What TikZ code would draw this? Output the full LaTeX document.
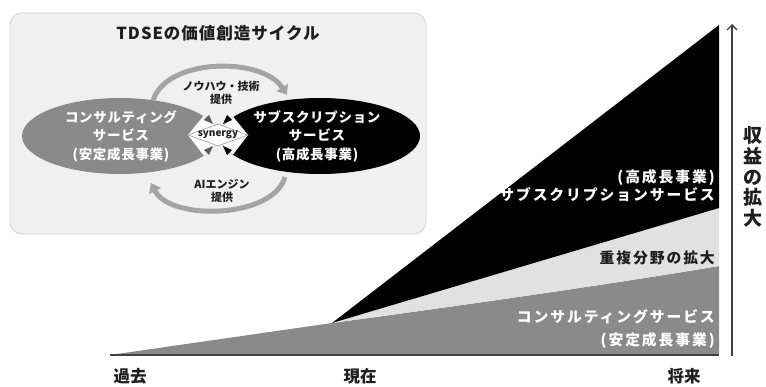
\documentclass[tikz,border=0pt]{standalone}
\usepackage{fontspec}
\newfontfamily\jp{Noto Sans CJK JP}
\usetikzlibrary{arrows.meta,shapes.geometric}
\definecolor{cgray}{HTML}{8A8A8A}
\definecolor{clight}{HTML}{E1E1E1}
\definecolor{insetbg}{HTML}{F0F0F0}
\definecolor{insetline}{HTML}{D4D4D4}
\definecolor{arcgray}{HTML}{A4A4A4}
\definecolor{ink}{HTML}{1E1E1E}
\begin{document}
\begin{tikzpicture}[x=1pt,y=-1pt,
  chartlbl/.style={font=\jp\bfseries\fontsize{14.8}{16}\selectfont\addfontfeature{LetterSpace=13}, inner sep=0pt, anchor=east},
  ellbl/.style={font=\jp\bfseries\fontsize{13.5}{18.5}\selectfont\addfontfeature{LetterSpace=5}, text=white, align=center, inner sep=0pt},
  arclbl/.style={font=\jp\bfseries\fontsize{11}{13.5}\selectfont, text=ink, align=center, inner sep=0pt},
  timelbl/.style={font=\jp\bfseries\fontsize{16.5}{18}\selectfont, text=ink, inner sep=0pt},
  arcline/.style={draw=arcgray, line width=5pt, -{Triangle[width=13pt,length=9pt]}},
]
\useasboundingbox (0,0) rectangle (766,387);
\fill[white] (0,0) rectangle (766,387);

% ---------------- chart ----------------
\coordinate (p0) at (110,355);
\coordinate (p1) at (332,323);
\coordinate (r0) at (719,355);
\coordinate (r1) at (719,266);
\coordinate (r2) at (719,208);
\coordinate (r3) at (719,25);
\fill[cgray] (p0) -- (p1) .. controls (450,307) and (600,286) .. (r1) -- (r0) -- cycle;
\fill[clight] (p1) -- (r2) -- (r1) .. controls (600,286) and (450,307) .. (p1);
\fill[black] (p1) -- (r3) -- (r2) -- cycle;
\draw[draw=black!75, line width=1.5pt] (p0) -- (r0);

% axis
\coordinate (a0) at (732,356);
\coordinate (a1) at (732,24);
\draw[draw=black!75, line width=1.3pt, -{Straight Barb[length=5pt,width=10pt]}] (a0) -- (a1);
\node[font=\jp\bfseries\fontsize{19}{20.8}\selectfont, text=ink, align=center, inner sep=0pt] (axislbl) at (753,177) {収\\益\\の\\拡\\大};

% time labels
\node[timelbl] (past) at (130,376.5) {過去};
\node[timelbl] (now) at (360,376.5) {現在};
\node[timelbl] (future) at (684,376.5) {将来};

% chart labels
\node[chartlbl, text=white] (subs1) at (715,178) {(高成長事業)};
\node[chartlbl, text=white] (subs2) at (715,195) {サブスクリプションサービス};
\node[chartlbl, text=ink] (overlap) at (715,258) {重複分野の拡大};
\node[chartlbl, text=white] (cons1) at (715,317) {コンサルティングサービス};
\node[chartlbl, text=white] (cons2) at (715,341) {(安定成長事業)};

% ---------------- inset ----------------
\draw[fill=insetbg, draw=insetline, line width=0.8pt, rounded corners=12pt] (10,13) rectangle (426,234);
\node[font=\jp\bfseries\fontsize{16.5}{18}\selectfont\addfontfeature{LetterSpace=6}, text=ink, inner sep=0pt] (title) at (218,33) {TDSEの価値創造サイクル};

% ellipses
\node[ellipse, fill=cgray, minimum width=196pt, minimum height=76pt, inner sep=0pt] (econs) at (120,136) {};
\node[ellipse, fill=black, minimum width=200pt, minimum height=76pt, inner sep=0pt] (esubs) at (320,136) {};
\begin{scope}
  \clip (120,136) ellipse [x radius=98pt, y radius=38pt] (320,136) ellipse [x radius=100pt, y radius=38pt];
  \fill[white] (188,135) -- (218,98) -- (248,135) -- (218,174) -- cycle;
\end{scope}
% small wedges
\fill[black!65] (213,124) -- (204,120) -- (209,115) -- cycle;
\fill[black] (223,124) -- (232,120) -- (227,115) -- cycle;
\fill[black!65] (213,146) -- (204,150) -- (209,155) -- cycle;
\fill[black] (223,146) -- (232,150) -- (227,155) -- cycle;
% synergy diamond
\node[diamond, fill=white, draw=black!40, line width=0.6pt, minimum width=60pt, minimum height=22pt, inner sep=0pt] (syn) at (218,135) {};
\node[font=\jp\bfseries\fontsize{10}{11}\selectfont, text=ink, inner sep=0pt] (syntext) at (syn.center) {synergy};

\node[ellbl] (constext) at (121,136) {コンサルティング\\サービス\\(安定成長事業)};
\node[ellbl] (substext) at (317,136) {サブスクリプション\\サービス\\(高成長事業)};

% cycle arrows
\coordinate (ta0) at (153,101);
\coordinate (ta1) at (287,95);
\draw[arcline] (ta0) .. controls (165,58) and (262,56) .. (ta1);
\coordinate (ba0) at (285,177);
\coordinate (ba1) at (151,183);
\draw[arcline] (ba0) .. controls (273,219) and (170,221) .. (ba1);

\node[arclbl] (know) at (221,93) {ノウハウ・技術\\提供};
\node[arclbl] (ai) at (222,191) {AIエンジン\\提供};
\end{tikzpicture}
\end{document}
